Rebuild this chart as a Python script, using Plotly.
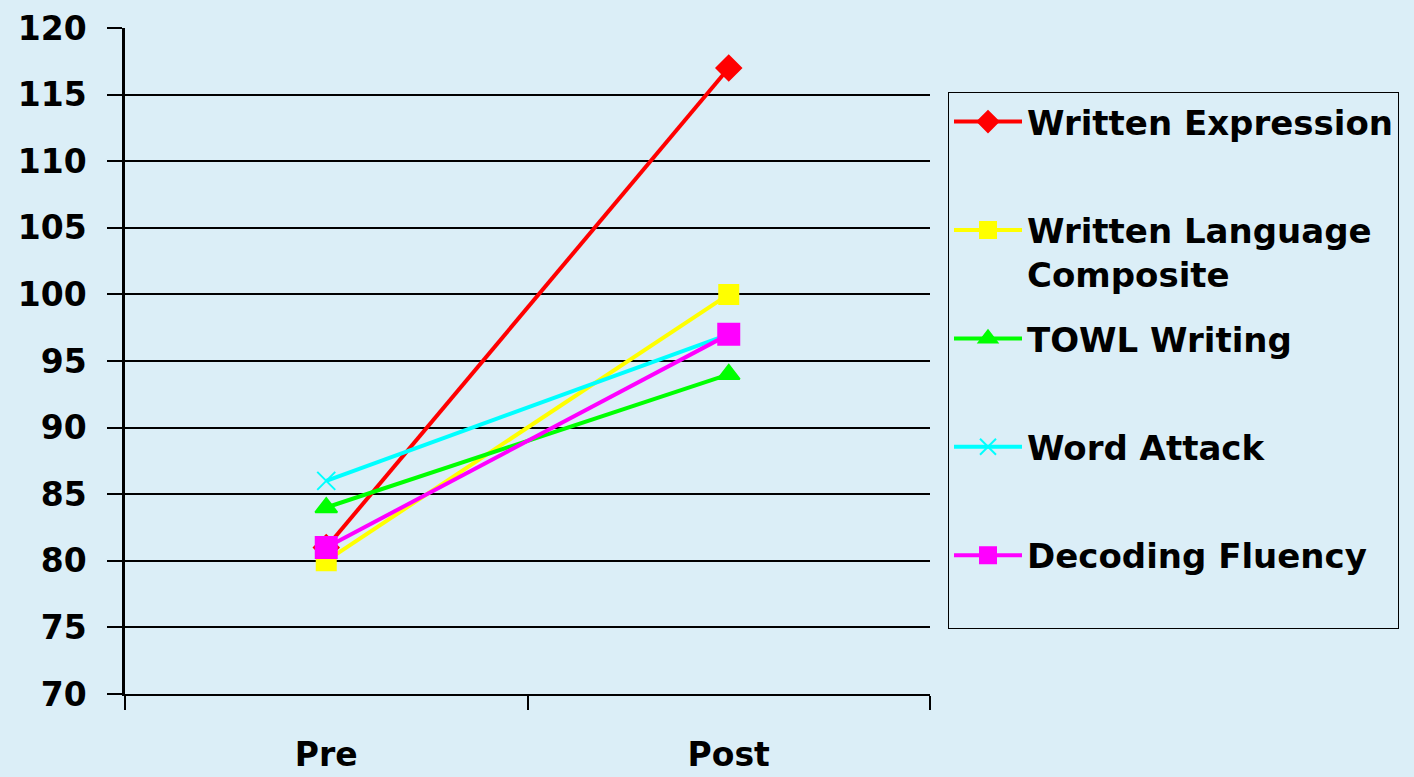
import plotly.graph_objects as go

categories = ["Pre", "Post"]
series_names = ["Written Expression", "Written Language<br>Composite", "TOWL Writing", "Word Attack", "Decoding Fluency"]
written_expression = [81, 117]
written_language_composite = [80, 100]
towl_writing = [84, 94]
word_attack = [86, 97]
decoding_fluency = [81, 97]
y_ticks = [70, 75, 80, 85, 90, 95, 100, 105, 110, 115, 120]

values = [written_expression, written_language_composite, towl_writing, word_attack, decoding_fluency]
colors = ["#FF0000", "#FFFF00", "#00FF00", "#00FFFF", "#FF00FF"]
symbols = ["diamond", "square", "triangle-up", "x-thin", "square"]
sizes = [19, 19, 19, 18, 21]

BG = "#DBEEF7"
FONT = "Comic Sans MS, DejaVu Sans, sans-serif"

fig = go.Figure()
for i, (name, vals, col, sym, sz) in enumerate(zip(series_names, values, colors, symbols, sizes)):
    label = name if "<br>" in name else name + "<br>&nbsp;"
    fig.add_trace(go.Scatter(
        x=categories, y=vals, name=label, mode="lines+markers",
        legendgroup=f"g{i}",
        line=dict(color=col, width=4),
        marker=dict(symbol=sym, size=sz, color=col, line=dict(color=col, width=2)),
    ))

fig.update_layout(
    width=1414, height=777,
    margin=dict(l=125, r=484, t=28, b=83),
    paper_bgcolor=BG, plot_bgcolor=BG,
    font=dict(family=FONT, color="black", size=33, weight="bold"),
    showlegend=True,
    legend=dict(
        x=(948 - 125) / 805, xanchor="left",
        y=(694 - 92) / 666, yanchor="top",
        bgcolor=BG, bordercolor="black", borderwidth=1,
        font=dict(family=FONT, size=34, color="black", weight="bold"),
        valign="top", itemwidth=68, traceorder="grouped", tracegroupgap=17,
    ),
)
fig.update_xaxes(
    type="category", range=[-0.5, 1.5], automargin=False,
    showgrid=False, showline=True, linecolor="black", linewidth=2,
    ticks="outside", tickson="boundaries", ticklen=14, tickcolor="black", tickwidth=1.5,
    ticklabelstandoff=30,
    tickfont=dict(family=FONT, size=33, color="black", weight="bold"),
    zeroline=False,
)
fig.update_yaxes(
    range=[70, 120], tickvals=y_ticks, automargin=False,
    showgrid=True, gridcolor="black", gridwidth=1.5,
    showline=True, linecolor="black", linewidth=2.5,
    ticks="outside", ticklen=15, tickcolor="black", tickwidth=1.5,
    ticklabelstandoff=14,
    tickfont=dict(family=FONT, size=33, color="black", weight="bold"),
    zeroline=False,
)

fig.write_html(
    "out.html",
    config={"displayModeBar": False},
    post_script="document.body.style.margin='0';document.body.style.background='" + BG + "';",
)
